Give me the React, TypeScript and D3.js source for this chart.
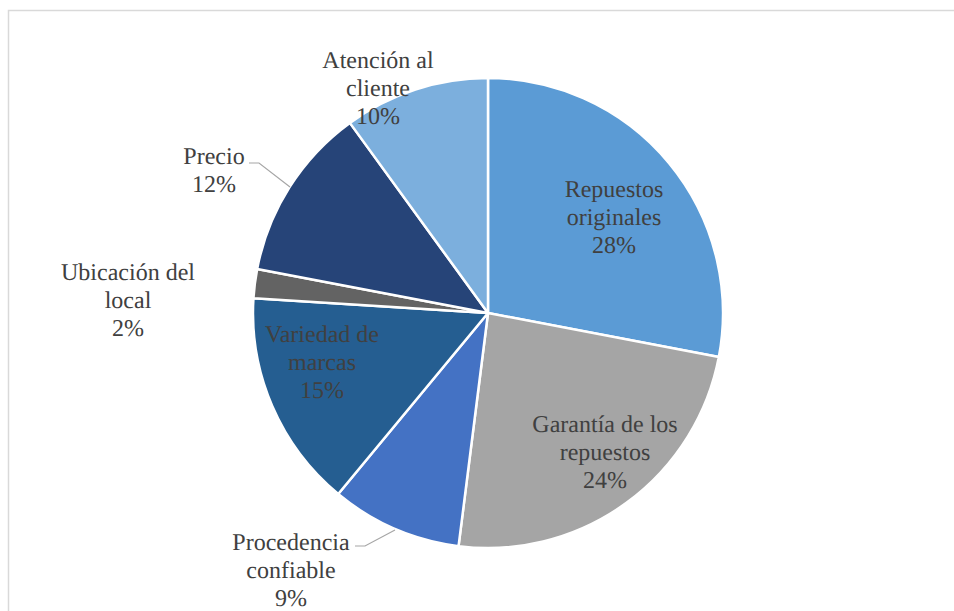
import React from "react";
import * as d3 from "d3";

const categories = [
  "Repuestos originales",
  "Garantía de los repuestos",
  "Procedencia confiable",
  "Variedad de marcas",
  "Ubicación del local",
  "Precio",
  "Atención al cliente",
];
const values = [28, 24, 9, 15, 2, 12, 10];
const labelLines = [
  ["Repuestos", "originales", "28%"],
  ["Garantía de los", "repuestos", "24%"],
  ["Procedencia", "confiable", "9%"],
  ["Variedad de", "marcas", "15%"],
  ["Ubicación del", "local", "2%"],
  ["Precio", "12%"],
  ["Atención al", "cliente", "10%"],
];
const colors = ["#5B9BD5", "#A5A5A5", "#4472C4", "#255E91", "#636363", "#264478", "#7CAFDD"];

// layout: label center offsets (first baseline) relative to pie center
const labelPos: [number, number][] = [
  [126, -116],
  [117, 119],
  [-197, 237],
  [-166, 29],
  [-360, -33],
  [-274, -149],
  [-110, -245],
];
// leader lines (points relative to center)
const leaders: ([number, number][] | null)[] = [
  null,
  null,
  [[-133, 233], [-123, 233], [-93, 217]],
  null,
  null,
  [[-239, -150], [-229, -150], [-198, -126]],
  null,
];

const W = 954;
const H = 611;
const cx = 488;
const cy = 313;
const R = 235;
const FONT = 24;
const LH = 28;
const FAMILY = '"Liberation Serif", "Times New Roman", serif';

export default function App() {
  const pie = d3.pie<number>().sort(null).value((d) => d);
  const arcs = pie(values);
  const arc = d3.arc<d3.PieArcDatum<number>>().innerRadius(0).outerRadius(R);
  return (
    <svg
      width={W}
      height={H}
      style={{ position: "fixed", left: 0, top: 0, display: "block", background: "#fff" }}
    >
      <rect x={8.5} y={10.5} width={1000} height={800} fill="#fff" stroke="#D9D9D9" strokeWidth={1.5} />
      <g transform={`translate(${cx},${cy})`}>
        {arcs.map((a, i) => (
          <path key={categories[i]} d={arc(a) || ""} fill={colors[i]} stroke="#fff" strokeWidth={2.5} strokeLinejoin="round" />
        ))}
        {leaders.map((l, i) =>
          l ? (
            <polyline key={"l" + i} points={l.map((p) => p.join(",")).join(" ")} fill="none" stroke="#A6A6A6" strokeWidth={1.2} />
          ) : null
        )}
        {labelLines.map((lines, i) => (
          <text
            key={"t" + i}
            x={labelPos[i][0]}
            y={labelPos[i][1]}
            textAnchor="middle"
            textRendering="geometricPrecision"
            style={{ fontFamily: FAMILY, fontSize: FONT }}
            fill="#404040"
          >
            {lines.map((ln, j) => (
              <tspan key={j} x={labelPos[i][0]} y={labelPos[i][1] + j * LH}>
                {ln}
              </tspan>
            ))}
          </text>
        ))}
      </g>
    </svg>
  );
}
